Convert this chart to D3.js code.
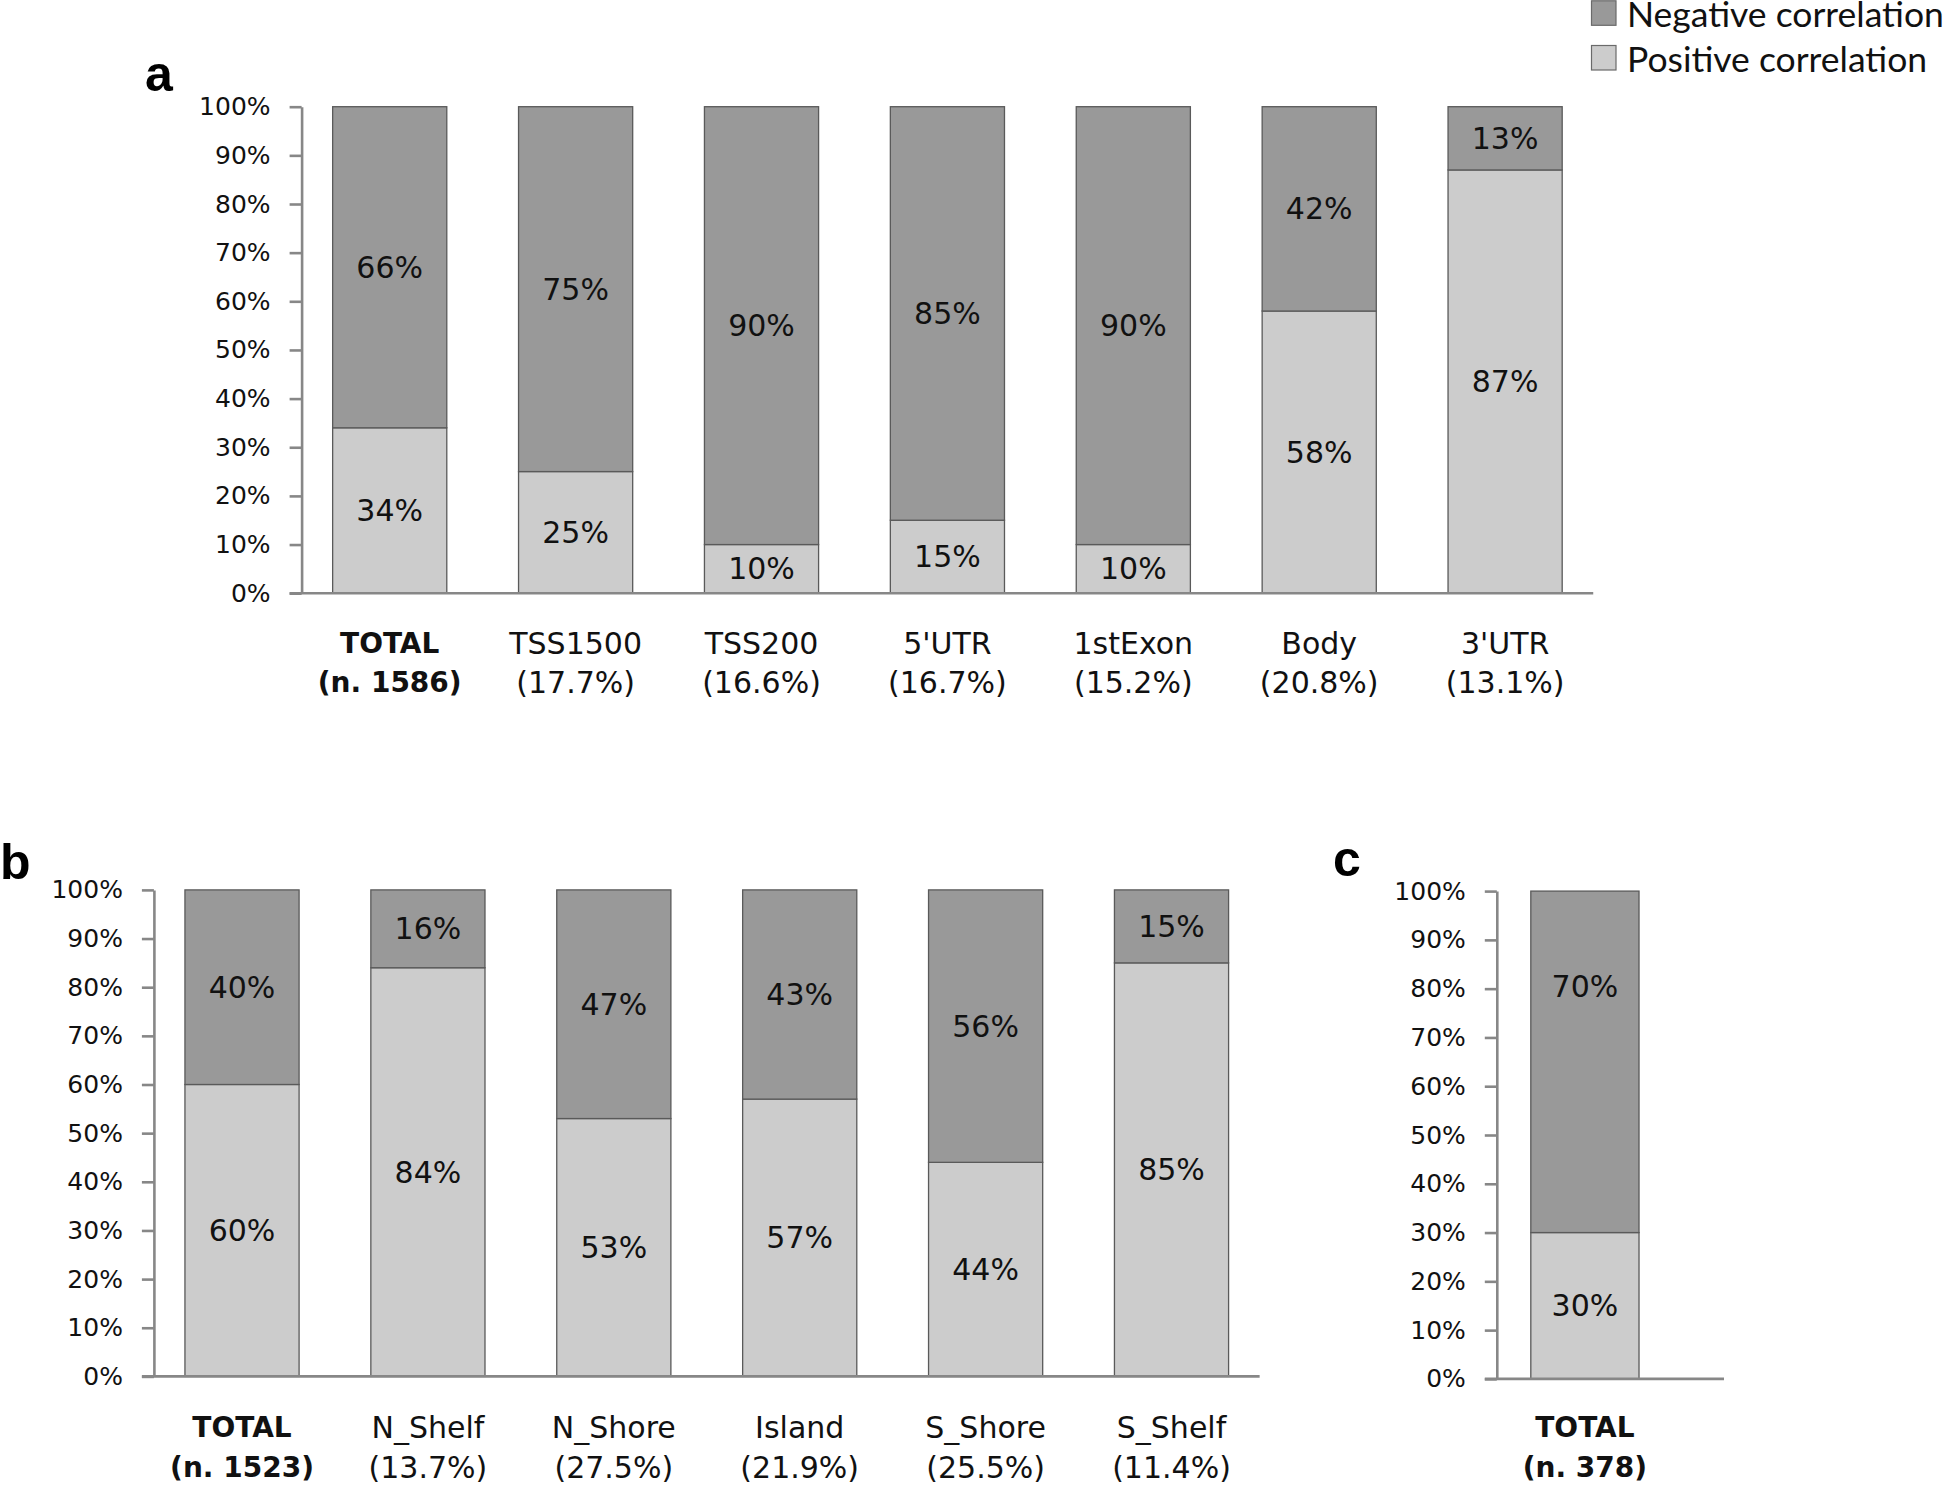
<!DOCTYPE html>
<html><head><meta charset="utf-8">
<script src="https://cdn.jsdelivr.net/npm/d3@7"></script>
<style>
html,body{margin:0;padding:0;background:#fff;}
svg{display:block;}
</style></head>
<body>
<svg id="chart" width="1946" height="1487"></svg>
<script>
// ---- data ----
const yTicks = [0,10,20,30,40,50,60,70,80,90,100];

const catsA = ["TOTAL","TSS1500","TSS200","5'UTR","1stExon","Body","3'UTR"];
const subA  = ["(n. 1586)","(17.7%)","(16.6%)","(16.7%)","(15.2%)","(20.8%)","(13.1%)"];
const posA  = [34,25,10,15,10,58,87];
const negA  = [66,75,90,85,90,42,13];

const catsB = ["TOTAL","N_Shelf","N_Shore","Island","S_Shore","S_Shelf"];
const subB  = ["(n. 1523)","(13.7%)","(27.5%)","(21.9%)","(25.5%)","(11.4%)"];
const posB  = [60,84,53,57,44,85];
const negB  = [40,16,47,43,56,15];

const catsC = ["TOTAL"];
const subC  = ["(n. 378)"];
const posC  = [30];
const negC  = [70];

const seriesNames = ["Negative correlation","Positive correlation"];

// ---- styles ----
const COL_NEG = "#999999", COL_POS = "#cccccc";
const AXIS_COL = "#878787";
const FONT = "'DejaVu Sans', Verdana, sans-serif";

const svg = d3.select("#chart");

function panel(cfg){
  const g = svg.append("g");
  const rows = cfg.cats.map((c,i)=>({cat:c, sub:cfg.sub[i], pos:cfg.pos[i], neg:cfg.neg[i]}));
  const y = d3.scaleLinear().domain([0,100]).range([cfg.y0, cfg.y100]);
  const step = 185.9, pi = 0.386, po = 0.167;
  const x = d3.scaleBand().domain(cfg.cats)
    .range([cfg.ax, cfg.ax + step*(cfg.cats.length - pi + 2*po)])
    .paddingInner(pi).paddingOuter(po);
  const stack = d3.stack().keys(["pos","neg"])(rows);

  // y axis
  const yAxis = d3.axisLeft(y).tickValues(yTicks).tickFormat(d=>d+"%")
    .tickSize(12).tickSizeOuter(0).tickPadding(19);
  const ya = g.append("g").attr("transform",`translate(${cfg.ax},0)`).call(yAxis);
  ya.select(".domain").attr("stroke",AXIS_COL).attr("stroke-width",2.6);
  ya.selectAll(".tick line").attr("stroke",AXIS_COL).attr("stroke-width",2.6);
  ya.selectAll(".tick text").attr("font-family",FONT).attr("font-size",25).attr("fill","#111");

  // bars
  const colors = {pos:COL_POS, neg:COL_NEG};
  const shift = cfg.labelShift || {pos:0, neg:0};
  stack.forEach(s=>{
    g.append("g").selectAll("rect").data(s).join("rect")
      .attr("x", d=>x(d.data.cat))
      .attr("width", x.bandwidth())
      .attr("y", d=>y(d[1]))
      .attr("height", d=>y(d[0])-y(d[1]))
      .attr("fill", colors[s.key])
      .attr("stroke","#5a5a5a").attr("stroke-width",1.3);
    g.append("g").selectAll("text").data(s).join("text")
      .attr("x", d=>x(d.data.cat)+x.bandwidth()/2)
      .attr("y", d=>(y(d[0])+y(d[1]))/2 + shift[s.key])
      .attr("text-anchor","middle").attr("dominant-baseline","central")
      .attr("font-family",FONT).attr("font-size",30).attr("fill","#111")
      .text(d=>d.data[s.key]+"%");
  });

  // baseline
  g.append("line").attr("x1",cfg.ax-12).attr("x2",cfg.xEnd || x.range()[1])
    .attr("y1",y(0)).attr("y2",y(0)).attr("stroke",AXIS_COL).attr("stroke-width",2.6);

  // category labels
  rows.forEach((r,i)=>{
    const bold = r.cat==="TOTAL";
    const cx = x(r.cat)+x.bandwidth()/2;
    [r.cat, r.sub].forEach((t,j)=>{
      g.append("text").attr("x",cx).attr("y", j===0?cfg.l1:cfg.l2)
        .attr("text-anchor","middle").attr("dominant-baseline","central")
        .attr("font-family",FONT).attr("font-size", bold?28:30)
        .attr("font-weight", bold?"bold":"normal").attr("fill","#111")
        .text(t);
    });
  });

  // panel letter
  g.append("text").attr("x",cfg.lx).attr("y",cfg.ly)
    .attr("font-family","'Liberation Sans', Arial, sans-serif").attr("font-weight","bold")
    .attr("font-size",50).attr("fill","#000").text(cfg.letter);
}

panel({cats:catsA, sub:subA, pos:posA, neg:negA, ax:301.6, y0:593.2, y100:106.7, l1:643, l2:682.6, letter:"a", lx:145, ly:90.5});
panel({cats:catsB, sub:subB, pos:posB, neg:negB, ax:153.9, y0:1376.4, y100:889.9, l1:1427.3, l2:1467, letter:"b", lx:0, ly:878.5});
panel({cats:catsC, sub:subC, pos:posC, neg:negC, ax:1496.8, y0:1378.9, y100:891.1, l1:1427.3, l2:1467, letter:"c", lx:1333, ly:876, xEnd:1724, labelShift:{pos:0, neg:-75}});

// legend
const leg = svg.append("g");
const legColors = [COL_NEG, COL_POS];
const legY = [0.8, 45.5];
seriesNames.forEach((n,i)=>{
  leg.append("rect").attr("x",1591.5).attr("y",legY[i]).attr("width",24.5).attr("height",24.5)
    .attr("fill",legColors[i]).attr("stroke","#6a6a6a").attr("stroke-width",1.2);
  leg.append("text").attr("x",1627).attr("y",legY[i]+12.5)
    .attr("dominant-baseline","central")
    .attr("font-family","Lato, 'Open Sans', sans-serif").attr("font-size",35.5).attr("fill","#111")
    .text(n);
});
</script>
</body></html>
